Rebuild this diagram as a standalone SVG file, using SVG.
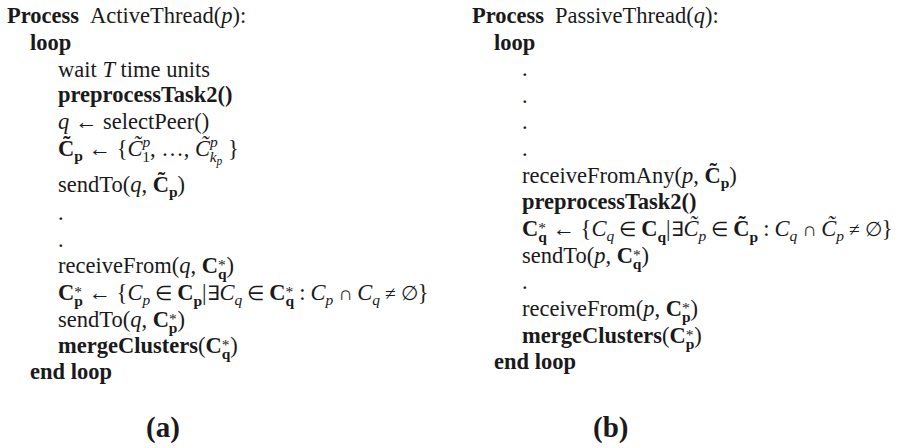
<svg xmlns="http://www.w3.org/2000/svg" width="898" height="448" viewBox="0 0 898 448">
<style>
.t{font-family:"Liberation Serif","Times New Roman",serif;font-size:22.5px;fill:#1a1a1a}
.b{font-weight:bold}
.i{font-style:italic}
.s{font-size:15.5px}
.ss{font-size:11.5px}
.op{font-size:19.5px}
.cap{font-family:"Liberation Serif","Times New Roman",serif;font-size:29px;font-weight:bold;fill:#1a1a1a}
</style>
<rect width="898" height="448" fill="#ffffff"/>
<g id="active-thread">
<text class="t" x="7" y="23"><tspan class="b">Process</tspan><tspan x="90">ActiveThread(</tspan><tspan class="i">p</tspan><tspan>):</tspan></text>
<text class="t b" x="30" y="50">loop</text>
<text class="t" x="58" y="77">wait <tspan class="i">T</tspan> time units</text>
<text class="t b" x="58" y="102">preprocessTask2()</text>
<text class="t" x="58" y="129"><tspan class="i">q</tspan> ← selectPeer()</text>
<text class="t" x="58" y="156"><tspan class="b">C&#x303;</tspan><tspan class="s b" y="161">p</tspan><tspan y="156"> ← {</tspan><tspan class="i">C&#x303;</tspan><tspan class="s i" y="147">p</tspan><tspan class="s" dx="-8" y="162">1</tspan><tspan y="156">, …, </tspan><tspan class="i">C&#x303;</tspan><tspan class="s i" y="147">p</tspan><tspan class="s i" dx="-8" y="162">k</tspan><tspan class="ss i" y="165">p</tspan><tspan y="156"> }</tspan></text>
<text class="t" x="58" y="192">sendTo(<tspan class="i">q</tspan>, <tspan class="b">C&#x303;</tspan><tspan class="s b" y="197">p</tspan><tspan y="192">)</tspan></text>
<text class="t" x="58" y="220">.</text>
<text class="t" x="58" y="247">.</text>
<text class="t" x="58" y="273">receiveFrom(<tspan class="i">q</tspan>, <tspan class="b">C</tspan><tspan class="s" y="270">*</tspan><tspan class="s b" dx="-7.8" y="279">q</tspan><tspan y="273">)</tspan></text>
<text class="t" x="58" y="300"><tspan class="b">C</tspan><tspan class="s" y="297">*</tspan><tspan class="s b" dx="-7.8" y="306">p</tspan><tspan y="300"> ← {</tspan><tspan class="i">C</tspan><tspan class="s i" y="305">p</tspan><tspan class="op" dx="5" y="300">∈</tspan><tspan class="b" dx="5">C</tspan><tspan class="s b" y="306">p</tspan><tspan y="300">|</tspan><tspan class="op">∃</tspan><tspan class="i">C</tspan><tspan class="s i" y="305">q</tspan><tspan class="op" dx="5" y="300">∈</tspan><tspan class="b" dx="5">C</tspan><tspan class="s" y="297">*</tspan><tspan class="s b" dx="-7.8" y="306">q</tspan><tspan dx="5" y="300">:</tspan><tspan class="i" dx="5">C</tspan><tspan class="s i" y="305">p</tspan><tspan class="op" dx="5" y="300">∩</tspan><tspan class="i" dx="5">C</tspan><tspan class="s i" y="305">q</tspan><tspan class="op" dx="5" y="300">≠</tspan><tspan class="op" dx="5">∅</tspan><tspan>}</tspan></text>
<text class="t" x="58" y="327">sendTo(<tspan class="i">q</tspan>, <tspan class="b">C</tspan><tspan class="s" y="324">*</tspan><tspan class="s b" dx="-7.8" y="333">p</tspan><tspan y="327">)</tspan></text>
<text class="t" x="58" y="353"><tspan class="b">mergeClusters</tspan>(<tspan class="b">C</tspan><tspan class="s" y="350">*</tspan><tspan class="s b" dx="-7.8" y="359">q</tspan><tspan y="353">)</tspan></text>
<text class="t b" x="30" y="379">end loop</text>
<text class="cap" x="146" y="437">(a)</text>
</g>
<g id="passive-thread">
<text class="t" x="472" y="23"><tspan class="b">Process</tspan><tspan x="555">PassiveThread(</tspan><tspan class="i">q</tspan><tspan>):</tspan></text>
<text class="t b" x="494" y="50">loop</text>
<text class="t" x="522" y="76">.</text>
<text class="t" x="522" y="103">.</text>
<text class="t" x="522" y="129">.</text>
<text class="t" x="522" y="156">.</text>
<text class="t" x="522" y="183">receiveFromAny(<tspan class="i">p</tspan>, <tspan class="b">C&#x303;</tspan><tspan class="s b" y="188">p</tspan><tspan y="183">)</tspan></text>
<text class="t b" x="522" y="209">preprocessTask2()</text>
<text class="t" x="522" y="236"><tspan class="b">C</tspan><tspan class="s" y="233">*</tspan><tspan class="s b" dx="-7.8" y="242">q</tspan><tspan y="236"> ← {</tspan><tspan class="i">C</tspan><tspan class="s i" y="241">q</tspan><tspan class="op" dx="5" y="236">∈</tspan><tspan class="b" dx="5">C</tspan><tspan class="s b" y="242">q</tspan><tspan y="236">|</tspan><tspan class="op">∃</tspan><tspan class="i">C&#x303;</tspan><tspan class="s i" y="241">p</tspan><tspan class="op" dx="5" y="236">∈</tspan><tspan class="b" dx="5">C&#x303;</tspan><tspan class="s b" y="242">p</tspan><tspan dx="5" y="236">:</tspan><tspan class="i" dx="5">C</tspan><tspan class="s i" y="241">q</tspan><tspan class="op" dx="5" y="236">∩</tspan><tspan class="i" dx="5">C&#x303;</tspan><tspan class="s i" y="241">p</tspan><tspan class="op" dx="5" y="236">≠</tspan><tspan class="op" dx="5">∅</tspan><tspan>}</tspan></text>
<text class="t" x="522" y="263">sendTo(<tspan class="i">p</tspan>, <tspan class="b">C</tspan><tspan class="s" y="260">*</tspan><tspan class="s b" dx="-7.8" y="269">q</tspan><tspan y="263">)</tspan></text>
<text class="t" x="522" y="289">.</text>
<text class="t" x="522" y="316">receiveFrom(<tspan class="i">p</tspan>, <tspan class="b">C</tspan><tspan class="s" y="313">*</tspan><tspan class="s b" dx="-7.8" y="322">p</tspan><tspan y="316">)</tspan></text>
<text class="t" x="522" y="343"><tspan class="b">mergeClusters</tspan>(<tspan class="b">C</tspan><tspan class="s" y="340">*</tspan><tspan class="s b" dx="-7.8" y="349">p</tspan><tspan y="343">)</tspan></text>
<text class="t b" x="494" y="369">end loop</text>
<text class="cap" x="593" y="437">(b)</text>
</g>
</svg>
